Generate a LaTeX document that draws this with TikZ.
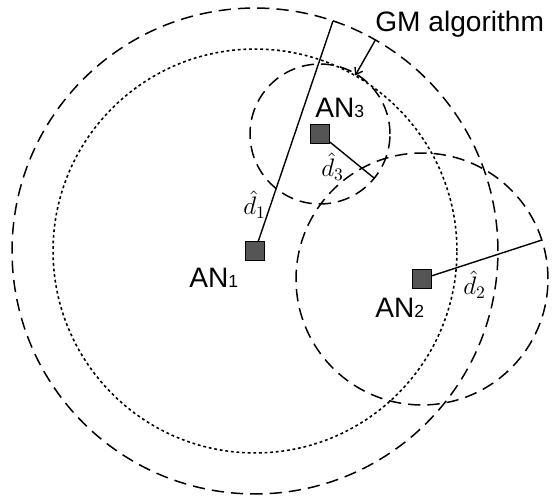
\documentclass[tikz,border=0pt]{standalone}
\usepackage{fontspec}
\setmainfont{Liberation Sans}
\usetikzlibrary{arrows.meta}
\definecolor{anFill}{HTML}{555555}
\definecolor{lineCol}{HTML}{000000}
\newcommand{\ansub}[1]{{\fontsize{10}{12}\selectfont #1}}
\tikzset{
  anode/.style={
    rectangle, draw=lineCol, fill=anFill, minimum size=0.38cm,
    inner sep=0pt, line width=0.6pt,
  },
  rangecircle/.style={draw=lineCol, line width=0.85pt, dash pattern=on 7pt off 4pt},
  estcircle/.style={draw=lineCol, line width=0.9pt, dash pattern=on 1.6pt off 1.6pt},
  rline/.style={draw=lineCol, line width=0.8pt},
  arrow/.style={-{Straight Barb[length=3.5pt, width=5pt]}, lineCol, line width=0.8pt},
  anlabel/.style={font=\fontsize{16}{18}\selectfont, inner sep=0pt, anchor=base west},
  dlabel/.style={font=\fontsize{14}{16}\selectfont, inner sep=0pt, anchor=base west},
}

\begin{document}
\begin{tikzpicture}[x=0.02cm, y=-0.02cm]

  \useasboundingbox (0,0) rectangle (556,500);

  % Anchor nodes
  \coordinate (c1) at (255,251);
  \coordinate (c2) at (422,279);
  \coordinate (c3) at (320,134);

  % Ranges
  \draw[rangecircle] (c1) circle[radius=4.86cm];
  \draw[estcircle] (c1) circle[radius=4.04cm];
  \draw[rangecircle] (c2) circle[radius=2.52cm];
  \draw[rangecircle] (c3) circle[radius=1.40cm];

  \node[anode] (an1) at (c1) {};
  \node[anode] (an2) at (c2) {};
  \node[anode] (an3) at (c3) {};

  % Estimated distances
  \coordinate (r1) at (333,21);
  \coordinate (r2) at (542,240);
  \coordinate (r3) at (374,178);
  \draw[rline] (an1) -- (r1);
  \draw[rline] (an2) -- (r2);
  \draw[rline] (an3) -- (r3);

  \node[dlabel] (ld1) at (243,215) {$\hat{d}_1$};
  \node[dlabel] (ld2) at (463,295) {$\hat{d}_2$};
  \node[dlabel] (ld3) at (321,177) {$\hat{d}_3$};

  \node[anlabel] (lan1) at (189,288) {AN\ansub{1}};
  \node[anlabel] (lan2) at (375,318) {AN\ansub{2}};
  \node[anlabel] (lan3) at (315,118) {AN\ansub{3}};

  % GM algorithm
  \node[anlabel] (gm) at (375,32) {GM algorithm};
  \coordinate (gmOut) at (375.5,39.8);
  \coordinate (gmIn) at (355.2,75.5);
  \draw[arrow] (gmOut) -- (gmIn);

\end{tikzpicture}
\end{document}
